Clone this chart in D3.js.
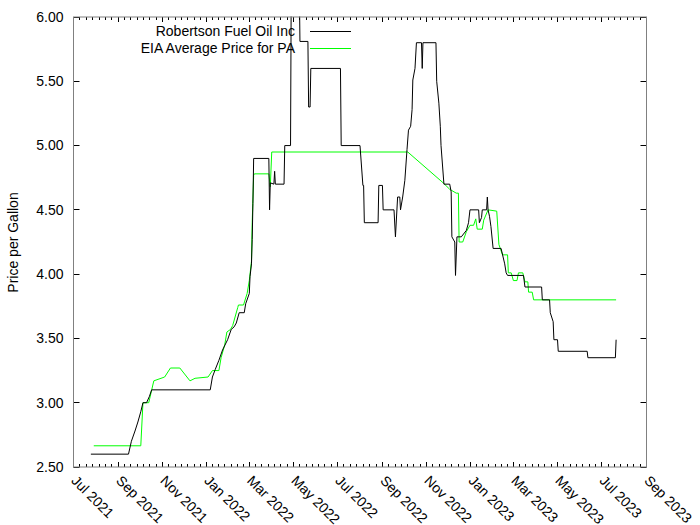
<!DOCTYPE html>
<html>
<head>
<meta charset="utf-8">
<script src="https://cdn.jsdelivr.net/npm/d3@7"></script>
<style>
  body { margin: 0; background: #fff; }
  text { font-family: "Liberation Sans", Arial, sans-serif; font-size: 14px; fill: #000; }
</style>
</head>
<body>
<div class="view"></div>
<script>
var seriesNames = ["Robertson Fuel Oil Inc", "EIA Average Price for PA"];

var robertsonDates = ["2021-07-25","2021-09-15","2021-09-19","2021-09-24","2021-09-28","2021-10-02","2021-10-05","2021-10-10","2021-10-14","2021-10-17",
  "2022-01-06","2022-01-09","2022-01-13","2022-01-18","2022-01-23","2022-01-30","2022-02-04","2022-02-08","2022-02-11","2022-02-15",
  "2022-02-22","2022-02-24","2022-03-01","2022-03-02","2022-03-04","2022-03-05","2022-03-06","2022-03-07","2022-03-28","2022-03-29",
  "2022-03-30","2022-04-04","2022-04-05","2022-04-06","2022-04-18","2022-04-19","2022-04-27","2022-04-28","2022-05-09","2022-05-10",
  "2022-05-21","2022-05-22","2022-05-24","2022-05-25","2022-07-05","2022-07-06","2022-08-01","2022-08-05","2022-08-06","2022-08-07",
  "2022-08-26","2022-08-27","2022-09-01","2022-09-02","2022-09-17","2022-09-19","2022-09-22","2022-09-25","2022-09-26","2022-09-29",
  "2022-10-02","2022-10-05","2022-10-07","2022-10-10","2022-10-12","2022-10-13","2022-10-16","2022-10-18","2022-10-25","2022-10-26",
  "2022-10-27","2022-11-14","2022-11-15","2022-11-18","2022-11-20","2022-11-21","2022-11-25","2022-12-03","2022-12-05","2022-12-06",
  "2022-12-10","2022-12-11","2022-12-13","2022-12-19","2022-12-26","2022-12-29","2022-12-31","2023-01-12","2023-01-13","2023-01-16",
  "2023-01-17","2023-01-23","2023-01-24","2023-01-25","2023-01-27","2023-01-29","2023-02-01","2023-02-12","2023-02-17","2023-02-19",
  "2023-02-21","2023-03-15","2023-03-17","2023-04-09","2023-04-10","2023-04-20","2023-04-21","2023-04-25","2023-04-26","2023-05-01",
  "2023-05-02","2023-06-11","2023-06-12","2023-07-20","2023-07-21"];
var robertsonPrices = [2.60,2.60,2.70,2.78,2.85,2.93,3.00,3.00,3.05,3.10,
  3.10,3.20,3.26,3.33,3.41,3.49,3.57,3.59,3.62,3.70,
  3.70,3.77,3.85,3.98,4.08,4.27,4.55,4.90,4.90,4.50,
  4.71,4.70,4.80,4.70,4.70,5.00,5.00,6.30,6.30,5.81,
  5.81,5.30,5.30,5.60,5.60,5.00,5.00,4.69,4.69,4.40,
  4.40,4.69,4.69,4.50,4.50,4.29,4.60,4.60,4.50,4.60,
  4.73,4.97,5.12,5.15,5.28,5.51,5.60,5.80,5.80,5.60,
  5.80,5.80,5.50,5.33,5.15,5.00,4.70,4.70,4.64,4.29,
  4.25,3.99,4.29,4.29,4.34,4.40,4.50,4.50,4.40,4.44,
  4.50,4.50,4.60,4.50,4.45,4.37,4.20,4.20,4.08,4.01,
  3.99,3.99,3.90,3.90,3.80,3.80,3.70,3.63,3.49,3.49,
  3.40,3.40,3.35,3.35,3.49];

var eiaDates = ["2021-07-29","2021-10-02","2021-10-05","2021-10-13","2021-10-20","2021-11-04","2021-11-12","2021-11-25","2021-12-09","2021-12-16",
  "2022-01-03","2022-01-09","2022-01-18","2022-01-21","2022-01-26","2022-01-29","2022-02-03","2022-02-06","2022-02-13","2022-02-14",
  "2022-02-21","2022-02-26","2022-03-01","2022-03-04","2022-03-05","2022-03-07","2022-03-08","2022-03-28","2022-03-30","2022-04-01",
  "2022-10-06","2022-11-24","2022-12-03","2022-12-12","2022-12-15","2022-12-16","2022-12-21","2022-12-26","2022-12-31","2023-01-05",
  "2023-01-08","2023-01-10","2023-01-17","2023-01-19","2023-01-25","2023-02-06","2023-02-09","2023-02-14","2023-02-21","2023-02-22",
  "2023-02-26","2023-03-01","2023-03-06","2023-03-08","2023-03-14","2023-03-17","2023-03-21","2023-03-22","2023-03-27","2023-03-29",
  "2023-07-21"];
var eiaPrices = [2.665,2.665,3.00,3.00,3.17,3.20,3.27,3.27,3.17,3.19,
  3.20,3.25,3.25,3.35,3.45,3.55,3.57,3.60,3.74,3.76,
  3.76,3.85,3.95,4.10,4.40,4.77,4.78,4.78,4.68,4.95,
  4.95,4.71,4.66,4.63,4.63,4.25,4.25,4.33,4.38,4.38,
  4.43,4.35,4.35,4.42,4.50,4.49,4.23,4.15,4.15,4.01,
  4.01,3.95,3.95,4.01,4.01,3.94,3.94,3.86,3.86,3.80,
  3.80];

var yTicks = [2.5, 3.0, 3.5, 4.0, 4.5, 5.0, 5.5, 6.0];
var xTickMonths = ["2021-07-01","2021-09-01","2021-11-01","2022-01-01","2022-03-01","2022-05-01","2022-07-01",
  "2022-09-01","2022-11-01","2023-01-01","2023-03-01","2023-05-01","2023-07-01","2023-09-01"];

var parseDate = d3.timeParse("%Y-%m-%d");
var formatTick = d3.timeFormat("%b %Y");

var robertson = robertsonDates.map(function(d, i) { return { date: parseDate(d), price: robertsonPrices[i] }; });
var eia = eiaDates.map(function(d, i) { return { date: parseDate(d), price: eiaPrices[i] }; });
var xTickDates = xTickMonths.map(parseDate);

var width = 700;
var height = 525;
var plotLeft = 73.5, plotRight = 646.5, plotTop = 17.5, plotBottom = 467.5;

var svg = d3.select('.view')
.append('svg')
.attr('width', width)
.attr('height', height);

var x = d3.scaleTime()
.domain([xTickDates[0], xTickDates[xTickDates.length - 1]])
.range([plotLeft, plotRight]);

var y = d3.scaleLinear()
.domain([2.5, 6])
.range([plotBottom, plotTop]);

svg.append("clipPath")
.attr("id", "plot-clip")
.append("rect")
.attr("x", plotLeft)
.attr("y", plotTop - 1)
.attr("width", plotRight - plotLeft)
.attr("height", plotBottom - plotTop + 1);

// minor x ticks: 7 steps between major ticks
var minorTicks = [];
for (var i = 0; i < xTickDates.length - 1; i++) {
  var a = x(xTickDates[i]), b = x(xTickDates[i + 1]);
  for (var k = 1; k < 7; k++) minorTicks.push(a + (b - a) * k / 7);
}

var tickColor = "#000";

function px(v) { return Math.round(v - 0.5) + 0.5; }

// bottom and top ticks
[[xTickDates.map(x), 5], [minorTicks, 3]].forEach(function(set) {
  svg.append("g")
  .selectAll("line")
  .data(set[0])
  .enter()
  .append("line")
  .attr("x1", function(d) { return px(d); })
  .attr("x2", function(d) { return px(d); })
  .attr("y1", plotBottom - 0.5)
  .attr("y2", plotBottom - 0.5 - set[1])
  .attr("stroke", tickColor);

  svg.append("g")
  .selectAll("line")
  .data(set[0])
  .enter()
  .append("line")
  .attr("x1", function(d) { return px(d); })
  .attr("x2", function(d) { return px(d); })
  .attr("y1", plotTop - 0.5)
  .attr("y2", plotTop - 0.5 + set[1])
  .attr("stroke", tickColor);
});

// y ticks, left and right
svg.append("g")
.selectAll("line")
.data(yTicks)
.enter()
.append("line")
.attr("x1", plotLeft)
.attr("x2", plotLeft + 6)
.attr("y1", function(d) { return px(y(d) - 0.5); })
.attr("y2", function(d) { return px(y(d) - 0.5); })
.attr("stroke", tickColor);

svg.append("g")
.selectAll("line")
.data(yTicks)
.enter()
.append("line")
.attr("x1", plotRight)
.attr("x2", plotRight - 6)
.attr("y1", function(d) { return px(y(d) - 0.5); })
.attr("y2", function(d) { return px(y(d) - 0.5); })
.attr("stroke", tickColor);

// y labels
svg.append("g")
.selectAll("text")
.data(yTicks)
.enter()
.append("text")
.attr("x", plotLeft - 10)
.attr("y", function(d) { return y(d) - 0.5; })
.attr("dy", "0.35em")
.attr("text-anchor", "end")
.text(function(d) { return d.toFixed(2); });

// x labels, rotated
svg.append("g")
.selectAll("text")
.data(xTickDates)
.enter()
.append("text")
.attr("transform", function(d) { return "translate(" + (x(d) - 3) + "," + (plotBottom + 14) + ") rotate(45)"; })
.attr("text-anchor", "start")
.text(function(d) { return formatTick(d); });

svg.append("text")
.attr("transform", "translate(18," + ((plotTop + plotBottom) / 2) + ") rotate(-90)")
.attr("text-anchor", "middle")
.text("Price per Gallon");

// series
var line = d3.line()
.x(function(d) { return x(d.date); })
.y(function(d) { return y(d.price) - 0.5; });

var plot = svg.append("g")
.attr("clip-path", "url(#plot-clip)");

plot.append("path")
.datum(eia)
.attr("fill", "none")
.attr("stroke", "#00ff00")
.attr("stroke-width", 1)
.attr("d", line);

plot.append("path")
.datum(robertson)
.attr("fill", "none")
.attr("stroke", "#000")
.attr("stroke-width", 1)
.attr("d", line);

// border
svg.append("rect")
.attr("x", plotLeft)
.attr("y", plotTop - 0.5)
.attr("width", plotRight - plotLeft)
.attr("height", plotBottom - plotTop)
.attr("fill", "none")
.attr("stroke", "#808080")
.attr("stroke-width", 1);

// legend
var legendColors = ["#000", "#00ff00"];
var legend = svg.append("g")
.selectAll("g")
.data(seriesNames)
.enter()
.append("g")
.attr("transform", function(d, i) { return "translate(0," + (31 + i * 17) + ")"; });

legend.append("text")
.attr("x", 295)
.attr("dy", "0.35em")
.attr("text-anchor", "end")
.text(function(d) { return d; });

legend.append("line")
.attr("x1", 310)
.attr("x2", 351)
.attr("y1", 0.5)
.attr("y2", 0.5)
.attr("stroke", function(d, i) { return legendColors[i]; });
</script>
</body>
</html>
